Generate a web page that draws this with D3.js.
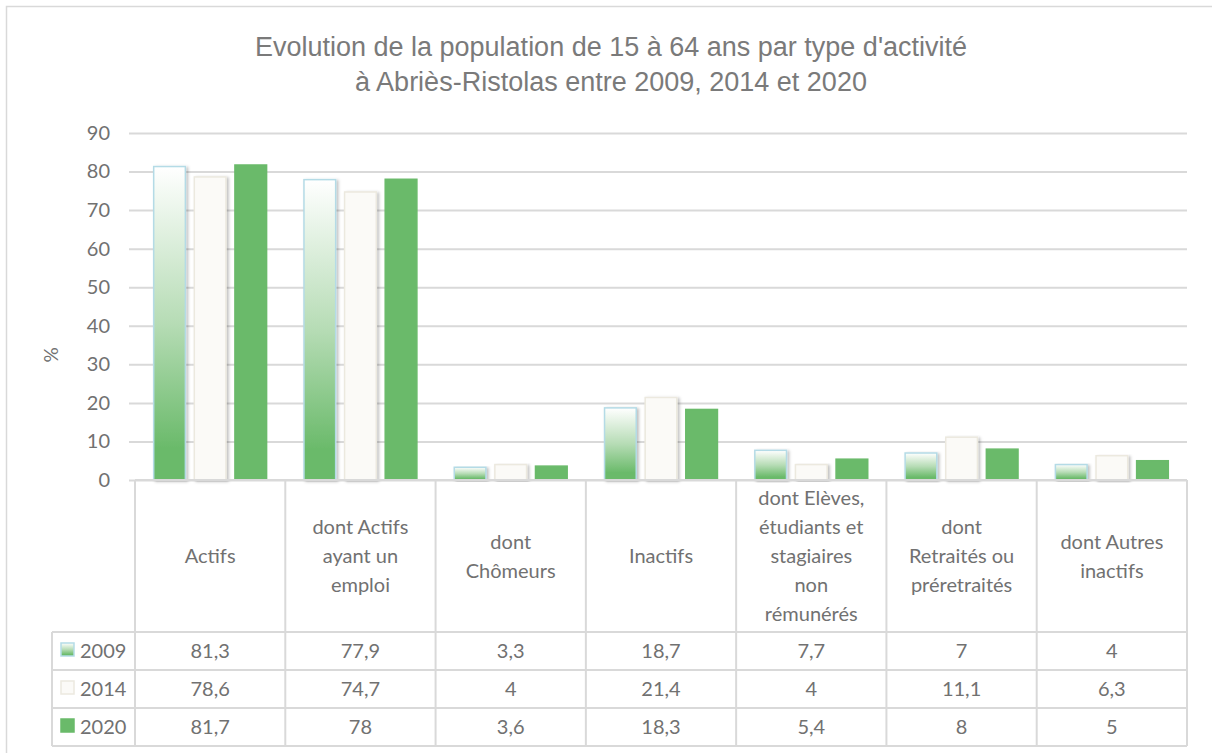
<!DOCTYPE html>
<html>
<head>
<meta charset="utf-8">
<script src="https://cdn.jsdelivr.net/npm/d3@7"></script>
<style>
  body { margin: 0; background: #fff; }
  svg { display: block; }
</style>
</head>
<body>
<svg id="chart" width="1212" height="753"></svg>
<script>
// data
const categories = [
  ["Actifs"],
  ["dont Actifs", "ayant un", "emploi"],
  ["dont", "Chômeurs"],
  ["Inactifs"],
  ["dont Elèves,", "étudiants et", "stagiaires", "non", "rémunérés"],
  ["dont", "Retraités ou", "préretraités"],
  ["dont Autres", "inactifs"]
]
const years = ["2009", "2014", "2020"]
const values2009 = [81.3, 77.9, 3.3, 18.7, 7.7, 7, 4]
const values2014 = [78.6, 74.7, 4, 21.4, 4, 11.1, 6.3]
const values2020 = [81.7, 78, 3.6, 18.3, 5.4, 8, 5]
const yTicks = [0, 10, 20, 30, 40, 50, 60, 70, 80, 90]

const series = [values2009, values2014, values2020]
const fmt = v => String(v).replace('.', ',')

let plotLeft = 135, plotRight = 1187, plotTop = 133, base = 480
let rowH = 38, rowTop = 632, tableLeft = 52
let textColor = "#717171"

const svg = d3.select("#chart")
const defs = svg.append("defs")

let grad = defs.append("linearGradient")
    .attr("id", "g2009")
    .attr("x1", 0).attr("y1", 0).attr("x2", 0).attr("y2", 1)
grad.append("stop").attr("offset", "0%").attr("stop-color", "#ffffff")
grad.append("stop").attr("offset", "50%").attr("stop-color", "#b6dcb5")
grad.append("stop").attr("offset", "90%").attr("stop-color", "#6aba6a")
grad.append("stop").attr("offset", "100%").attr("stop-color", "#6aba6a")

let shadow = defs.append("filter").attr("id", "shadow")
    .attr("x", "-20%").attr("y", "-5%").attr("width", "150%").attr("height", "115%")
shadow.append("feDropShadow")
    .attr("dx", 2).attr("dy", 1).attr("stdDeviation", 1.5)
    .attr("flood-color", "#000").attr("flood-opacity", 0.25)

const fills = ["url(#g2009)", "#fbfaf7", "#6aba6a"]
const strokes = ["#b4dbe6", "#ece9df", "#6aba6a"]

// outer frame
svg.append("rect")
    .attr("x", 6.5).attr("y", 6.5)
    .attr("width", 1220).attr("height", 760)
    .attr("fill", "none").attr("stroke", "#d9d9d9").attr("stroke-width", 1.5)

// title
svg.append("text")
    .attr("x", 611).attr("y", 56)
    .attr("text-anchor", "middle")
    .attr("font-family", "Liberation Sans Narrow, Liberation Sans, sans-serif")
    .attr("font-size", 27).attr("fill", "#7a7a7a")
  .selectAll("tspan")
  .data(["Evolution de la population de 15 à 64 ans par type d'activité",
         "à Abriès-Ristolas entre 2009, 2014 et 2020"])
  .join("tspan")
    .attr("x", 611).attr("dy", (d, i) => i ? 35 : 0)
    .text(d => d)

let x = d3.scaleBand()
    .domain(d3.range(categories.length))
    .range([plotLeft, plotRight])

let xs = d3.scaleBand()
    .domain(d3.range(years.length))
    .range([0, x.bandwidth()])
    .paddingInner(0.22)
    .paddingOuter(0.46)

let y = d3.scaleLinear()
    .domain([0, 90])
    .range([base, plotTop])

// grid + y axis
let yAxis = svg.append("g")
    .attr("transform", `translate(${plotLeft},0)`)
    .call(d3.axisLeft(y).tickValues(yTicks).tickSize(-(plotRight - plotLeft)).tickPadding(12))
yAxis.select(".domain").remove()
yAxis.selectAll(".tick line").attr("stroke", "#d9d9d9").attr("stroke-width", 2)
    .attr("x1", -6)
yAxis.selectAll(".tick text")
    .attr("font-family", "Lato, sans-serif").attr("font-size", 20).attr("fill", textColor)
    .attr("x", -25)

svg.append("text")
    .attr("transform", "translate(58,355) rotate(-90)")
    .attr("text-anchor", "middle")
    .attr("font-family", "Lato, sans-serif").attr("font-size", 19).attr("fill", textColor)
    .text("%")

// bars
series.forEach((vals, s) => {
  svg.append("g")
    .selectAll("rect")
    .data(vals)
    .join("rect")
      .attr("x", (d, i) => x(i) + xs(s))
      .attr("y", d => y(d))
      .attr("width", xs.bandwidth())
      .attr("height", d => base - y(d))
      .attr("fill", fills[s])
      .attr("stroke", strokes[s])
      .attr("stroke-width", 1.5)
      .attr("filter", s < 2 ? "url(#shadow)" : null)
})

// table
let tbl = svg.append("g")
    .attr("stroke", "#d9d9d9").attr("stroke-width", 2).attr("fill", "none")
let bottom = rowTop + rowH * years.length
tbl.append("line").attr("x1", plotLeft).attr("x2", plotRight).attr("y1", base).attr("y2", base)
for (let r = 0; r <= years.length; r++) {
  tbl.append("line").attr("x1", tableLeft).attr("x2", plotRight)
      .attr("y1", rowTop + r * rowH).attr("y2", rowTop + r * rowH)
}
d3.range(categories.length + 1).forEach(i => {
  let xx = i < categories.length ? x(i) : plotRight
  tbl.append("line").attr("x1", xx).attr("x2", xx).attr("y1", base).attr("y2", bottom)
})
tbl.append("line").attr("x1", tableLeft).attr("x2", tableLeft).attr("y1", rowTop).attr("y2", bottom)

// category labels
let catG = svg.append("g")
    .attr("font-family", "Lato, sans-serif").attr("font-size", 20).attr("fill", textColor)
    .attr("text-anchor", "middle")
categories.forEach((lines, i) => {
  let lh = 29
  let cy = (base + rowTop) / 2 - (lines.length - 1) * lh / 2 + 7
  catG.append("text")
    .selectAll("tspan")
    .data(lines)
    .join("tspan")
      .attr("x", x(i) + x.bandwidth() / 2)
      .attr("y", (d, k) => cy + k * lh)
      .text(d => d)
})

// table values
let valG = svg.append("g")
    .attr("font-family", "Lato, sans-serif").attr("font-size", 20).attr("fill", textColor)
series.forEach((vals, s) => {
  let cy = rowTop + s * rowH + rowH / 2 + 7
  valG.append("rect")
      .attr("x", 61).attr("y", cy - 15)
      .attr("width", 13).attr("height", 13)
      .attr("fill", fills[s]).attr("stroke", strokes[s]).attr("stroke-width", 1.5)
  valG.append("text")
      .attr("x", 80).attr("y", cy)
      .text(years[s])
  valG.append("g")
    .selectAll("text")
    .data(vals)
    .join("text")
      .attr("x", (d, i) => x(i) + x.bandwidth() / 2)
      .attr("y", cy)
      .attr("text-anchor", "middle")
      .text(d => fmt(d))
})
</script>
</body>
</html>
